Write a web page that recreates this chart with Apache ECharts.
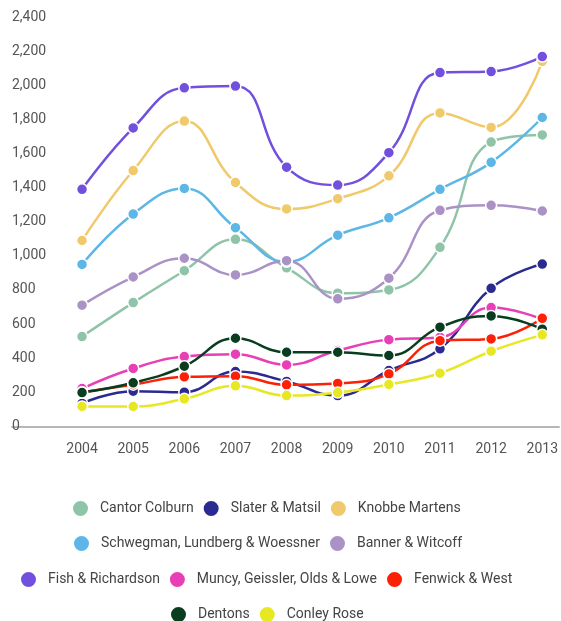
<!DOCTYPE html>
<html>
<head>
    <meta charset="utf-8">
    <title>firms</title>
    <script src="https://cdn.jsdelivr.net/npm/echarts@6/dist/echarts.min.js"></script>
    <style>
        html, body { margin: 0; padding: 0; background: #fff; }
    </style>
</head>
<body>
    <div id="main" style="width: 561px;height:621px;"></div>
    <script type="text/javascript">
    var years = [2004, 2005, 2006, 2007, 2008, 2009, 2010, 2011, 2012, 2013];
    var yTicks = [0, 200, 400, 600, 800, 1000, 1200, 1400, 1600, 1800, 2000, 2200, 2400];

    var names = ['Cantor Colburn', 'Slater & Matsil', 'Knobbe Martens',
        'Schwegman, Lundberg & Woessner', 'Banner & Witcoff', 'Fish & Richardson',
        'Muncy, Geissler, Olds & Lowe', 'Fenwick & West', 'Dentons', 'Conley Rose'];
    var colors = ['#8fc4a8', '#2b2a90', '#f0c96b', '#5cb7e6', '#ab92c6',
        '#7050dc', '#e93fb6', '#fb2106', '#083d1f', '#e7e723'];

    var cantor     = [527, 726, 913, 1097, 930, 781, 800, 1050, 1667, 1709];
    var slater     = [135, 207, 201, 322, 264, 181, 328, 455, 810, 952];
    var knobbe     = [1090, 1500, 1790, 1430, 1275, 1335, 1469, 1838, 1753, 2140];
    var schwegman  = [950, 1245, 1395, 1165, 965, 1121, 1223, 1390, 1548, 1811];
    var banner     = [711, 876, 986, 888, 972, 748, 869, 1267, 1296, 1263];
    var fish       = [1390, 1750, 1985, 1995, 1520, 1415, 1605, 2074, 2080, 2168];
    var muncy      = [222, 340, 410, 424, 361, 445, 509, 523, 697, 629];
    var fenwick    = [200, 245, 291, 295, 244, 252, 308, 503, 513, 634];
    var dentons    = [199, 256, 353, 517, 435, 435, 416, 582, 648, 570];
    var conley     = [117, 117, 162, 238, 181, 199, 246, 312, 441, 537];

    var values = [cantor, slater, knobbe, schwegman, banner, fish, muncy, fenwick, dentons, conley];

    // legend rows as in the picture
    var legendRows = [
        {names: [0, 1, 2], left: 71, top: 499},
        {names: [3, 4], left: 72, top: 534},
        {names: [5, 6, 7], left: 19, top: 570},
        {names: [8, 9], left: 169, top: 605}
    ];

    window.onload = function () {
        var myChart = echarts.init(document.getElementById('main'));
        var font = 'Roboto';

        var series = names.map(function (name, i) {
            return {
                name: name,
                type: 'line',
                smooth: 0.45,
                symbol: 'circle',
                symbolSize: 11,
                lineStyle: {width: 2.5, color: colors[i]},
                itemStyle: {color: colors[i], borderColor: '#fff', borderWidth: 1.5},
                emphasis: {disabled: true},
                data: years.map(function (y, j) { return [y, values[i][j]]; })
            };
        });

        var legends = legendRows.map(function (row) {
            return {
                left: row.left,
                top: row.top,
                padding: 0,
                itemWidth: 17,
                itemHeight: 17,
                itemGap: 8,
                icon: 'circle',
                data: row.names.map(function (k) { return names[k]; }),
                textStyle: {fontFamily: font, fontSize: 14, color: '#444', padding: [0, 0, 0, 6]}
            };
        });

        var option = {
            animation: false,
            color: colors,
            grid: {left: 12, right: 0, top: 17, bottom: 186},
            legend: legends,
            xAxis: {
                type: 'value',
                min: 2002.63,
                max: 2013.33,
                splitLine: {show: false},
                axisTick: {show: false},
                axisLine: {show: true, lineStyle: {color: '#9e9e9e', width: 1.5}},
                axisLabel: {
                    customValues: years,
                    margin: 7,
                    fontFamily: font,
                    fontSize: 14,
                    color: '#555',
                    formatter: function (v) { return String(v); }
                }
            },
            yAxis: {
                type: 'value',
                min: -50,
                max: 2400,
                splitLine: {show: false},
                axisTick: {show: false},
                axisLine: {show: false},
                axisLabel: {
                    customValues: yTicks,
                    inside: true,
                    margin: 0,
                    fontFamily: font,
                    fontSize: 14,
                    color: '#555',
                    formatter: function (v) { return v.toLocaleString('en-US'); }
                }
            },
            series: series
        };
        myChart.setOption(option);
    };
    </script>
</body>
</html>
